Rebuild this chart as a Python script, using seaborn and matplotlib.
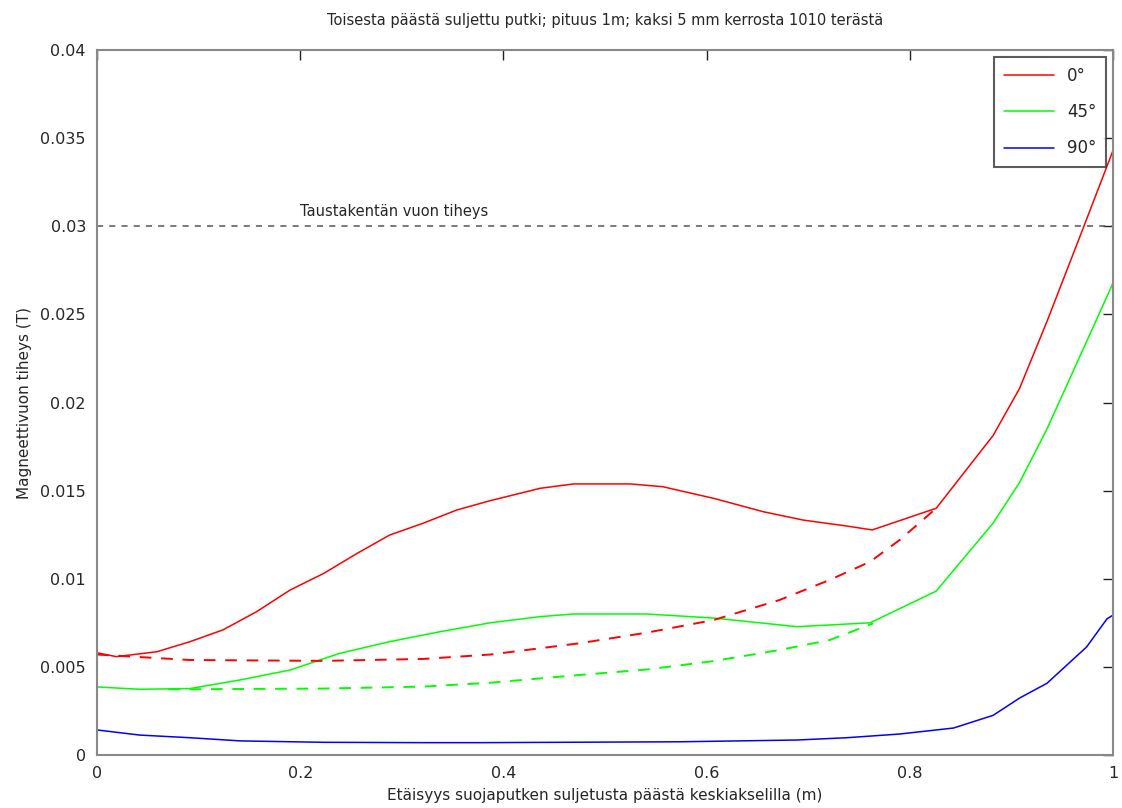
import pandas as pd
import seaborn as sns
import matplotlib.pyplot as plt

# Arvot luettu kuvasta (x = etäisyys m, y = vuon tiheys T)
x_0 = [0.0, 0.019, 0.059, 0.0915, 0.124, 0.157, 0.19, 0.223, 0.256, 0.288, 0.321, 0.354,
       0.387, 0.436, 0.469, 0.525, 0.557, 0.607, 0.656, 0.695, 0.738, 0.763, 0.826,
       0.882, 0.908, 0.935, 0.97, 1.0]
y_0 = [0.0058, 0.00558, 0.00586, 0.00643, 0.0071, 0.00813, 0.00936, 0.0103, 0.01144,
       0.01248, 0.01315, 0.0139, 0.01443, 0.01513, 0.01538, 0.01538, 0.01522, 0.01456,
       0.0138, 0.01333, 0.01299, 0.01277, 0.0140, 0.01813, 0.0208, 0.0246, 0.0298, 0.0343]

x_45 = [0.0, 0.042, 0.0915, 0.141, 0.19, 0.239, 0.288, 0.338, 0.387, 0.436, 0.469, 0.541,
        0.607, 0.689, 0.761, 0.826, 0.882, 0.908, 0.935, 0.974, 1.0]
y_45 = [0.00386, 0.00373, 0.00377, 0.00426, 0.00482, 0.00577, 0.00643, 0.0070, 0.0075,
        0.00785, 0.0080, 0.0080, 0.00777, 0.00728, 0.0075, 0.0093, 0.01316, 0.01546,
        0.0185, 0.02346, 0.02678]

x_90 = [0.0, 0.042, 0.0915, 0.141, 0.223, 0.321, 0.377, 0.574, 0.689, 0.738, 0.79,
        0.843, 0.882, 0.908, 0.935, 0.974, 0.994, 1.0]
y_90 = [0.00142, 0.00113, 0.00098, 0.0008, 0.00072, 0.0007, 0.0007, 0.00075, 0.00085,
        0.00098, 0.00119, 0.00153, 0.00225, 0.00323, 0.00407, 0.00613, 0.00772, 0.00794]

# katkoviivat (ilman päätyä)
x_0_dash = [0.0, 0.035, 0.0915, 0.223, 0.321, 0.387, 0.475, 0.541, 0.607, 0.672, 0.721,
            0.761, 0.79, 0.826]
y_0_dash = [0.0057, 0.00558, 0.00539, 0.00534, 0.00545, 0.0057, 0.00634, 0.00694, 0.00766,
            0.0088, 0.00993, 0.01097, 0.0122, 0.0140]
x_45_dash = [0.07, 0.0915, 0.223, 0.321, 0.387, 0.475, 0.541, 0.607, 0.672, 0.721, 0.764]
y_45_dash = [0.00373, 0.00373, 0.00377, 0.00388, 0.0041, 0.00454, 0.00485, 0.00533,
             0.00596, 0.00652, 0.00747]

background = 0.03
labels = ['0°', '45°', '90°']
colors = ['#ff0000', '#00ff00', '#0000ff']

solid = pd.concat([
    pd.DataFrame({'x': x_0, 'y': y_0, 'kulma': labels[0]}),
    pd.DataFrame({'x': x_45, 'y': y_45, 'kulma': labels[1]}),
    pd.DataFrame({'x': x_90, 'y': y_90, 'kulma': labels[2]}),
])
dashed = pd.concat([
    pd.DataFrame({'x': x_0_dash, 'y': y_0_dash, 'kulma': labels[0]}),
    pd.DataFrame({'x': x_45_dash, 'y': y_45_dash, 'kulma': labels[1]}),
])

sns.set_style('white')
plt.rcParams['font.family'] = ['DejaVu Sans']

fig = plt.figure(figsize=(11.22, 8.08), dpi=100)
ax = fig.add_axes([0.0865, 0.0656, 0.9055, 0.8725])

pal = dict(zip(labels, colors))
sns.lineplot(data=solid, x='x', y='y', hue='kulma', palette=pal, sort=False,
             estimator=None, linewidth=1.1, ax=ax)
sns.lineplot(data=dashed, x='x', y='y', hue='kulma', palette=pal, sort=False,
             estimator=None, linewidth=1.4, dashes=False, linestyle=(0, (6, 5)),
             legend=False, ax=ax)
ax.axhline(background, color='#555555', linestyle=(0, (4, 4)), linewidth=1.1)
ax.text(0.2, background + 0.0004, 'Taustakentän vuon tiheys', fontsize=10.5,
        va='bottom', ha='left')

ax.set_xlim(0, 1)
ax.set_ylim(0, 0.04)
ax.set_xticks([0, 0.2, 0.4, 0.6, 0.8, 1])
ax.set_xticklabels(['0', '0.2', '0.4', '0.6', '0.8', '1'])
ax.set_yticks([0, 0.005, 0.01, 0.015, 0.02, 0.025, 0.03, 0.035, 0.04])
ax.set_yticklabels(['0', '0.005', '0.01', '0.015', '0.02', '0.025', '0.03', '0.035', '0.04'])
ax.tick_params(direction='in', top=True, right=True, length=7, width=1,
               labelsize=11.5, color='#222222', pad=8)
for s in ax.spines.values():
    s.set_color('#888888')
    s.set_linewidth(1.5)

ax.set_xlabel('Etäisyys suojaputken suljetusta päästä keskiakselilla (m)', fontsize=11, labelpad=5)
ax.set_ylabel('Magneettivuon tiheys (T)', fontsize=11, labelpad=6)
ax.set_title('Toisesta päästä suljettu putki; pituus 1m; kaksi 5 mm kerrosta 1010 terästä',
             fontsize=10.5, pad=18)

leg = ax.legend(loc='upper right', fontsize=12, frameon=True, fancybox=False,
                edgecolor='#333333', handlelength=3.0, borderaxespad=0.4,
                labelspacing=1.1, borderpad=0.6)
leg.get_frame().set_linewidth(1.5)

fig.savefig('out.png', dpi=100)
